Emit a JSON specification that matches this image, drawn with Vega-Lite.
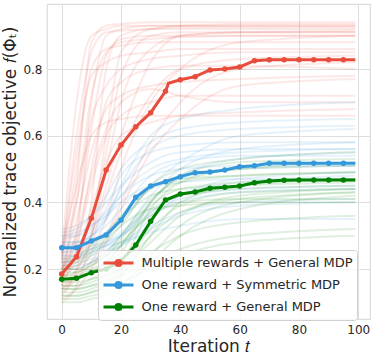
{
  "$schema": "https://vega.github.io/schema/vega-lite/v6.json",
  "width": 323,
  "height": 315,
  "autosize": {"type": "none"},
  "padding": {"left": 47, "top": 4, "right": 4, "bottom": 39},
  "background": "white",
  "config": {
    "view": {"stroke": "#dcdcdc", "strokeWidth": 1.2},
    "axis": {
      "domain": false, "ticks": false, "gridColor": "#dedede", "gridWidth": 1,
      "labelFont": "DejaVu Sans", "labelFontSize": 12, "labelColor": "#262626", "labelPadding": 5,
      "titleFont": "DejaVu Sans", "titleFontWeight": "normal", "titleFontSize": 17, "titleColor": "#262626"
    },
    "legend": {
      "orient": "none", "legendX": 51, "legendY": 246,
      "fillColor": "rgba(255,255,255,0.8)", "strokeColor": "#d0d0d0", "cornerRadius": 3, "padding": 4,
      "symbolType": "M-2,0H2M0.34,0A0.34,0.34 0 1 1 -0.34,0A0.34,0.34 0 1 1 0.34,0Z",
      "symbolSize": 225, "symbolStrokeWidth": 3, "symbolOpacity": 1, "symbolOffset": 7.5,
      "labelFont": "DejaVu Sans", "labelFontSize": 13, "labelColor": "#262626",
      "rowPadding": 4, "labelOffset": 14, "labelLimit": 400
    }
  },
  "datasets": {
    "mean": [
      {"m": "Multiple rewards + General MDP", "t": 0, "v": 0.185},
      {"m": "Multiple rewards + General MDP", "t": 5, "v": 0.237},
      {"m": "Multiple rewards + General MDP", "t": 10, "v": 0.352},
      {"m": "Multiple rewards + General MDP", "t": 15, "v": 0.497},
      {"m": "Multiple rewards + General MDP", "t": 20, "v": 0.572},
      {"m": "Multiple rewards + General MDP", "t": 25, "v": 0.627},
      {"m": "Multiple rewards + General MDP", "t": 30, "v": 0.669},
      {"m": "Multiple rewards + General MDP", "t": 35, "v": 0.733},
      {"m": "Multiple rewards + General MDP", "t": 36, "v": 0.757},
      {"m": "Multiple rewards + General MDP", "t": 40, "v": 0.768},
      {"m": "Multiple rewards + General MDP", "t": 45, "v": 0.777},
      {"m": "Multiple rewards + General MDP", "t": 50, "v": 0.797},
      {"m": "Multiple rewards + General MDP", "t": 55, "v": 0.8},
      {"m": "Multiple rewards + General MDP", "t": 60, "v": 0.806},
      {"m": "Multiple rewards + General MDP", "t": 65, "v": 0.825},
      {"m": "Multiple rewards + General MDP", "t": 70, "v": 0.828},
      {"m": "Multiple rewards + General MDP", "t": 75, "v": 0.828},
      {"m": "Multiple rewards + General MDP", "t": 80, "v": 0.828},
      {"m": "Multiple rewards + General MDP", "t": 85, "v": 0.828},
      {"m": "Multiple rewards + General MDP", "t": 90, "v": 0.828},
      {"m": "Multiple rewards + General MDP", "t": 95, "v": 0.828},
      {"m": "Multiple rewards + General MDP", "t": 99, "v": 0.828},
      {"m": "One reward + Symmetric MDP", "t": 0, "v": 0.264},
      {"m": "One reward + Symmetric MDP", "t": 5, "v": 0.264},
      {"m": "One reward + Symmetric MDP", "t": 10, "v": 0.284},
      {"m": "One reward + Symmetric MDP", "t": 15, "v": 0.302},
      {"m": "One reward + Symmetric MDP", "t": 20, "v": 0.347},
      {"m": "One reward + Symmetric MDP", "t": 25, "v": 0.415},
      {"m": "One reward + Symmetric MDP", "t": 30, "v": 0.449},
      {"m": "One reward + Symmetric MDP", "t": 35, "v": 0.462},
      {"m": "One reward + Symmetric MDP", "t": 40, "v": 0.477},
      {"m": "One reward + Symmetric MDP", "t": 45, "v": 0.489},
      {"m": "One reward + Symmetric MDP", "t": 50, "v": 0.491},
      {"m": "One reward + Symmetric MDP", "t": 55, "v": 0.497},
      {"m": "One reward + Symmetric MDP", "t": 60, "v": 0.507},
      {"m": "One reward + Symmetric MDP", "t": 65, "v": 0.51},
      {"m": "One reward + Symmetric MDP", "t": 70, "v": 0.517},
      {"m": "One reward + Symmetric MDP", "t": 75, "v": 0.517},
      {"m": "One reward + Symmetric MDP", "t": 80, "v": 0.517},
      {"m": "One reward + Symmetric MDP", "t": 85, "v": 0.517},
      {"m": "One reward + Symmetric MDP", "t": 90, "v": 0.517},
      {"m": "One reward + Symmetric MDP", "t": 95, "v": 0.517},
      {"m": "One reward + Symmetric MDP", "t": 99, "v": 0.517},
      {"m": "One reward + General MDP", "t": 0, "v": 0.169},
      {"m": "One reward + General MDP", "t": 5, "v": 0.172},
      {"m": "One reward + General MDP", "t": 10, "v": 0.189},
      {"m": "One reward + General MDP", "t": 15, "v": 0.2},
      {"m": "One reward + General MDP", "t": 20, "v": 0.225},
      {"m": "One reward + General MDP", "t": 25, "v": 0.272},
      {"m": "One reward + General MDP", "t": 30, "v": 0.343},
      {"m": "One reward + General MDP", "t": 35, "v": 0.407},
      {"m": "One reward + General MDP", "t": 40, "v": 0.425},
      {"m": "One reward + General MDP", "t": 45, "v": 0.431},
      {"m": "One reward + General MDP", "t": 50, "v": 0.442},
      {"m": "One reward + General MDP", "t": 55, "v": 0.445},
      {"m": "One reward + General MDP", "t": 60, "v": 0.449},
      {"m": "One reward + General MDP", "t": 65, "v": 0.459},
      {"m": "One reward + General MDP", "t": 70, "v": 0.464},
      {"m": "One reward + General MDP", "t": 75, "v": 0.466},
      {"m": "One reward + General MDP", "t": 80, "v": 0.467},
      {"m": "One reward + General MDP", "t": 85, "v": 0.467},
      {"m": "One reward + General MDP", "t": 90, "v": 0.467},
      {"m": "One reward + General MDP", "t": 95, "v": 0.467},
      {"m": "One reward + General MDP", "t": 99, "v": 0.467}
    ],
    "runs": [
      {"m":"Multiple rewards + General MDP","r":1,"t":0,"v":0.15},{"m":"Multiple rewards + General MDP","r":1,"t":5,"v":0.45},{"m":"Multiple rewards + General MDP","r":1,"t":10,"v":0.88},{"m":"Multiple rewards + General MDP","r":1,"t":15,"v":0.93},{"m":"Multiple rewards + General MDP","r":1,"t":20,"v":0.935},{"m":"Multiple rewards + General MDP","r":1,"t":30,"v":0.94},{"m":"Multiple rewards + General MDP","r":1,"t":40,"v":0.94},{"m":"Multiple rewards + General MDP","r":1,"t":60,"v":0.94},{"m":"Multiple rewards + General MDP","r":1,"t":99,"v":0.94},
      {"m":"Multiple rewards + General MDP","r":2,"t":0,"v":0.2},{"m":"Multiple rewards + General MDP","r":2,"t":5,"v":0.3},{"m":"Multiple rewards + General MDP","r":2,"t":10,"v":0.7},{"m":"Multiple rewards + General MDP","r":2,"t":15,"v":0.9},{"m":"Multiple rewards + General MDP","r":2,"t":20,"v":0.92},{"m":"Multiple rewards + General MDP","r":2,"t":30,"v":0.93},{"m":"Multiple rewards + General MDP","r":2,"t":40,"v":0.93},{"m":"Multiple rewards + General MDP","r":2,"t":60,"v":0.93},{"m":"Multiple rewards + General MDP","r":2,"t":99,"v":0.93},
      {"m":"Multiple rewards + General MDP","r":3,"t":0,"v":0.12},{"m":"Multiple rewards + General MDP","r":3,"t":5,"v":0.2},{"m":"Multiple rewards + General MDP","r":3,"t":10,"v":0.4},{"m":"Multiple rewards + General MDP","r":3,"t":15,"v":0.8},{"m":"Multiple rewards + General MDP","r":3,"t":20,"v":0.9},{"m":"Multiple rewards + General MDP","r":3,"t":30,"v":0.92},{"m":"Multiple rewards + General MDP","r":3,"t":40,"v":0.92},{"m":"Multiple rewards + General MDP","r":3,"t":60,"v":0.92},{"m":"Multiple rewards + General MDP","r":3,"t":99,"v":0.92},
      {"m":"Multiple rewards + General MDP","r":4,"t":0,"v":0.18},{"m":"Multiple rewards + General MDP","r":4,"t":5,"v":0.25},{"m":"Multiple rewards + General MDP","r":4,"t":10,"v":0.35},{"m":"Multiple rewards + General MDP","r":4,"t":15,"v":0.55},{"m":"Multiple rewards + General MDP","r":4,"t":20,"v":0.78},{"m":"Multiple rewards + General MDP","r":4,"t":30,"v":0.9},{"m":"Multiple rewards + General MDP","r":4,"t":40,"v":0.91},{"m":"Multiple rewards + General MDP","r":4,"t":60,"v":0.91},{"m":"Multiple rewards + General MDP","r":4,"t":99,"v":0.91},
      {"m":"Multiple rewards + General MDP","r":5,"t":0,"v":0.22},{"m":"Multiple rewards + General MDP","r":5,"t":5,"v":0.6},{"m":"Multiple rewards + General MDP","r":5,"t":10,"v":0.85},{"m":"Multiple rewards + General MDP","r":5,"t":15,"v":0.91},{"m":"Multiple rewards + General MDP","r":5,"t":20,"v":0.915},{"m":"Multiple rewards + General MDP","r":5,"t":30,"v":0.92},{"m":"Multiple rewards + General MDP","r":5,"t":40,"v":0.925},{"m":"Multiple rewards + General MDP","r":5,"t":60,"v":0.925},{"m":"Multiple rewards + General MDP","r":5,"t":99,"v":0.925},
      {"m":"Multiple rewards + General MDP","r":6,"t":0,"v":0.16},{"m":"Multiple rewards + General MDP","r":6,"t":5,"v":0.22},{"m":"Multiple rewards + General MDP","r":6,"t":10,"v":0.3},{"m":"Multiple rewards + General MDP","r":6,"t":15,"v":0.45},{"m":"Multiple rewards + General MDP","r":6,"t":20,"v":0.6},{"m":"Multiple rewards + General MDP","r":6,"t":30,"v":0.82},{"m":"Multiple rewards + General MDP","r":6,"t":40,"v":0.9},{"m":"Multiple rewards + General MDP","r":6,"t":60,"v":0.91},{"m":"Multiple rewards + General MDP","r":6,"t":99,"v":0.91},
      {"m":"Multiple rewards + General MDP","r":7,"t":0,"v":0.25},{"m":"Multiple rewards + General MDP","r":7,"t":5,"v":0.4},{"m":"Multiple rewards + General MDP","r":7,"t":10,"v":0.65},{"m":"Multiple rewards + General MDP","r":7,"t":15,"v":0.75},{"m":"Multiple rewards + General MDP","r":7,"t":20,"v":0.8},{"m":"Multiple rewards + General MDP","r":7,"t":30,"v":0.83},{"m":"Multiple rewards + General MDP","r":7,"t":40,"v":0.84},{"m":"Multiple rewards + General MDP","r":7,"t":60,"v":0.85},{"m":"Multiple rewards + General MDP","r":7,"t":99,"v":0.85},
      {"m":"Multiple rewards + General MDP","r":8,"t":0,"v":0.14},{"m":"Multiple rewards + General MDP","r":8,"t":5,"v":0.18},{"m":"Multiple rewards + General MDP","r":8,"t":10,"v":0.25},{"m":"Multiple rewards + General MDP","r":8,"t":15,"v":0.35},{"m":"Multiple rewards + General MDP","r":8,"t":20,"v":0.5},{"m":"Multiple rewards + General MDP","r":8,"t":30,"v":0.7},{"m":"Multiple rewards + General MDP","r":8,"t":40,"v":0.8},{"m":"Multiple rewards + General MDP","r":8,"t":60,"v":0.88},{"m":"Multiple rewards + General MDP","r":8,"t":99,"v":0.9},
      {"m":"Multiple rewards + General MDP","r":9,"t":0,"v":0.2},{"m":"Multiple rewards + General MDP","r":9,"t":5,"v":0.35},{"m":"Multiple rewards + General MDP","r":9,"t":10,"v":0.55},{"m":"Multiple rewards + General MDP","r":9,"t":15,"v":0.68},{"m":"Multiple rewards + General MDP","r":9,"t":20,"v":0.72},{"m":"Multiple rewards + General MDP","r":9,"t":30,"v":0.75},{"m":"Multiple rewards + General MDP","r":9,"t":40,"v":0.76},{"m":"Multiple rewards + General MDP","r":9,"t":60,"v":0.77},{"m":"Multiple rewards + General MDP","r":9,"t":99,"v":0.78},
      {"m":"Multiple rewards + General MDP","r":10,"t":0,"v":0.18},{"m":"Multiple rewards + General MDP","r":10,"t":5,"v":0.28},{"m":"Multiple rewards + General MDP","r":10,"t":10,"v":0.45},{"m":"Multiple rewards + General MDP","r":10,"t":15,"v":0.6},{"m":"Multiple rewards + General MDP","r":10,"t":20,"v":0.66},{"m":"Multiple rewards + General MDP","r":10,"t":30,"v":0.7},{"m":"Multiple rewards + General MDP","r":10,"t":40,"v":0.72},{"m":"Multiple rewards + General MDP","r":10,"t":60,"v":0.72},{"m":"Multiple rewards + General MDP","r":10,"t":99,"v":0.72},
      {"m":"Multiple rewards + General MDP","r":11,"t":0,"v":0.13},{"m":"Multiple rewards + General MDP","r":11,"t":5,"v":0.17},{"m":"Multiple rewards + General MDP","r":11,"t":10,"v":0.22},{"m":"Multiple rewards + General MDP","r":11,"t":15,"v":0.3},{"m":"Multiple rewards + General MDP","r":11,"t":20,"v":0.4},{"m":"Multiple rewards + General MDP","r":11,"t":30,"v":0.58},{"m":"Multiple rewards + General MDP","r":11,"t":40,"v":0.7},{"m":"Multiple rewards + General MDP","r":11,"t":60,"v":0.8},{"m":"Multiple rewards + General MDP","r":11,"t":99,"v":0.82},
      {"m":"Multiple rewards + General MDP","r":12,"t":0,"v":0.21},{"m":"Multiple rewards + General MDP","r":12,"t":5,"v":0.5},{"m":"Multiple rewards + General MDP","r":12,"t":10,"v":0.8},{"m":"Multiple rewards + General MDP","r":12,"t":15,"v":0.86},{"m":"Multiple rewards + General MDP","r":12,"t":20,"v":0.87},{"m":"Multiple rewards + General MDP","r":12,"t":30,"v":0.88},{"m":"Multiple rewards + General MDP","r":12,"t":40,"v":0.88},{"m":"Multiple rewards + General MDP","r":12,"t":60,"v":0.88},{"m":"Multiple rewards + General MDP","r":12,"t":99,"v":0.88},
      {"m":"Multiple rewards + General MDP","r":13,"t":0,"v":0.17},{"m":"Multiple rewards + General MDP","r":13,"t":5,"v":0.24},{"m":"Multiple rewards + General MDP","r":13,"t":10,"v":0.38},{"m":"Multiple rewards + General MDP","r":13,"t":15,"v":0.52},{"m":"Multiple rewards + General MDP","r":13,"t":20,"v":0.6},{"m":"Multiple rewards + General MDP","r":13,"t":30,"v":0.64},{"m":"Multiple rewards + General MDP","r":13,"t":40,"v":0.66},{"m":"Multiple rewards + General MDP","r":13,"t":60,"v":0.67},{"m":"Multiple rewards + General MDP","r":13,"t":99,"v":0.68},
      {"m":"Multiple rewards + General MDP","r":14,"t":0,"v":0.19},{"m":"Multiple rewards + General MDP","r":14,"t":5,"v":0.32},{"m":"Multiple rewards + General MDP","r":14,"t":10,"v":0.62},{"m":"Multiple rewards + General MDP","r":14,"t":15,"v":0.84},{"m":"Multiple rewards + General MDP","r":14,"t":20,"v":0.89},{"m":"Multiple rewards + General MDP","r":14,"t":30,"v":0.9},{"m":"Multiple rewards + General MDP","r":14,"t":40,"v":0.9},{"m":"Multiple rewards + General MDP","r":14,"t":60,"v":0.9},{"m":"Multiple rewards + General MDP","r":14,"t":99,"v":0.9},
      {"m":"Multiple rewards + General MDP","r":15,"t":0,"v":0.15},{"m":"Multiple rewards + General MDP","r":15,"t":5,"v":0.2},{"m":"Multiple rewards + General MDP","r":15,"t":10,"v":0.28},{"m":"Multiple rewards + General MDP","r":15,"t":15,"v":0.42},{"m":"Multiple rewards + General MDP","r":15,"t":20,"v":0.55},{"m":"Multiple rewards + General MDP","r":15,"t":30,"v":0.72},{"m":"Multiple rewards + General MDP","r":15,"t":40,"v":0.8},{"m":"Multiple rewards + General MDP","r":15,"t":60,"v":0.83},{"m":"Multiple rewards + General MDP","r":15,"t":99,"v":0.84},
      {"m":"Multiple rewards + General MDP","r":16,"t":0,"v":0.23},{"m":"Multiple rewards + General MDP","r":16,"t":5,"v":0.55},{"m":"Multiple rewards + General MDP","r":16,"t":10,"v":0.78},{"m":"Multiple rewards + General MDP","r":16,"t":15,"v":0.82},{"m":"Multiple rewards + General MDP","r":16,"t":20,"v":0.84},{"m":"Multiple rewards + General MDP","r":16,"t":30,"v":0.85},{"m":"Multiple rewards + General MDP","r":16,"t":40,"v":0.86},{"m":"Multiple rewards + General MDP","r":16,"t":60,"v":0.86},{"m":"Multiple rewards + General MDP","r":16,"t":99,"v":0.86},
      {"m":"Multiple rewards + General MDP","r":17,"t":0,"v":0.1},{"m":"Multiple rewards + General MDP","r":17,"t":5,"v":0.15},{"m":"Multiple rewards + General MDP","r":17,"t":10,"v":0.3},{"m":"Multiple rewards + General MDP","r":17,"t":15,"v":0.6},{"m":"Multiple rewards + General MDP","r":17,"t":20,"v":0.85},{"m":"Multiple rewards + General MDP","r":17,"t":30,"v":0.92},{"m":"Multiple rewards + General MDP","r":17,"t":40,"v":0.93},{"m":"Multiple rewards + General MDP","r":17,"t":60,"v":0.93},{"m":"Multiple rewards + General MDP","r":17,"t":99,"v":0.93},
      {"m":"Multiple rewards + General MDP","r":18,"t":0,"v":0.24},{"m":"Multiple rewards + General MDP","r":18,"t":5,"v":0.7},{"m":"Multiple rewards + General MDP","r":18,"t":10,"v":0.9},{"m":"Multiple rewards + General MDP","r":18,"t":15,"v":0.92},{"m":"Multiple rewards + General MDP","r":18,"t":20,"v":0.93},{"m":"Multiple rewards + General MDP","r":18,"t":30,"v":0.93},{"m":"Multiple rewards + General MDP","r":18,"t":40,"v":0.93},{"m":"Multiple rewards + General MDP","r":18,"t":60,"v":0.935},{"m":"Multiple rewards + General MDP","r":18,"t":99,"v":0.935},
      {"m":"Multiple rewards + General MDP","r":19,"t":0,"v":0.16},{"m":"Multiple rewards + General MDP","r":19,"t":5,"v":0.26},{"m":"Multiple rewards + General MDP","r":19,"t":10,"v":0.5},{"m":"Multiple rewards + General MDP","r":19,"t":15,"v":0.7},{"m":"Multiple rewards + General MDP","r":19,"t":20,"v":0.76},{"m":"Multiple rewards + General MDP","r":19,"t":30,"v":0.8},{"m":"Multiple rewards + General MDP","r":19,"t":40,"v":0.81},{"m":"Multiple rewards + General MDP","r":19,"t":60,"v":0.81},{"m":"Multiple rewards + General MDP","r":19,"t":99,"v":0.8},
      {"m":"Multiple rewards + General MDP","r":20,"t":0,"v":0.2},{"m":"Multiple rewards + General MDP","r":20,"t":5,"v":0.3},{"m":"Multiple rewards + General MDP","r":20,"t":10,"v":0.48},{"m":"Multiple rewards + General MDP","r":20,"t":15,"v":0.62},{"m":"Multiple rewards + General MDP","r":20,"t":20,"v":0.7},{"m":"Multiple rewards + General MDP","r":20,"t":30,"v":0.74},{"m":"Multiple rewards + General MDP","r":20,"t":40,"v":0.72},{"m":"Multiple rewards + General MDP","r":20,"t":60,"v":0.7},{"m":"Multiple rewards + General MDP","r":20,"t":99,"v":0.7},
      {"m":"Multiple rewards + General MDP","r":21,"t":0,"v":0.11},{"m":"Multiple rewards + General MDP","r":21,"t":5,"v":0.14},{"m":"Multiple rewards + General MDP","r":21,"t":10,"v":0.2},{"m":"Multiple rewards + General MDP","r":21,"t":15,"v":0.28},{"m":"Multiple rewards + General MDP","r":21,"t":20,"v":0.38},{"m":"Multiple rewards + General MDP","r":21,"t":30,"v":0.55},{"m":"Multiple rewards + General MDP","r":21,"t":40,"v":0.65},{"m":"Multiple rewards + General MDP","r":21,"t":60,"v":0.75},{"m":"Multiple rewards + General MDP","r":21,"t":99,"v":0.77},
      {"m":"Multiple rewards + General MDP","r":22,"t":0,"v":0.19},{"m":"Multiple rewards + General MDP","r":22,"t":5,"v":0.4},{"m":"Multiple rewards + General MDP","r":22,"t":10,"v":0.72},{"m":"Multiple rewards + General MDP","r":22,"t":15,"v":0.85},{"m":"Multiple rewards + General MDP","r":22,"t":20,"v":0.88},{"m":"Multiple rewards + General MDP","r":22,"t":30,"v":0.89},{"m":"Multiple rewards + General MDP","r":22,"t":40,"v":0.895},{"m":"Multiple rewards + General MDP","r":22,"t":60,"v":0.9},{"m":"Multiple rewards + General MDP","r":22,"t":99,"v":0.9},
      {"m":"Multiple rewards + General MDP","r":23,"t":0,"v":0.14},{"m":"Multiple rewards + General MDP","r":23,"t":5,"v":0.19},{"m":"Multiple rewards + General MDP","r":23,"t":10,"v":0.3},{"m":"Multiple rewards + General MDP","r":23,"t":15,"v":0.5},{"m":"Multiple rewards + General MDP","r":23,"t":20,"v":0.7},{"m":"Multiple rewards + General MDP","r":23,"t":30,"v":0.86},{"m":"Multiple rewards + General MDP","r":23,"t":40,"v":0.9},{"m":"Multiple rewards + General MDP","r":23,"t":60,"v":0.91},{"m":"Multiple rewards + General MDP","r":23,"t":99,"v":0.915},
      {"m":"Multiple rewards + General MDP","r":24,"t":0,"v":0.26},{"m":"Multiple rewards + General MDP","r":24,"t":5,"v":0.45},{"m":"Multiple rewards + General MDP","r":24,"t":10,"v":0.6},{"m":"Multiple rewards + General MDP","r":24,"t":15,"v":0.64},{"m":"Multiple rewards + General MDP","r":24,"t":20,"v":0.65},{"m":"Multiple rewards + General MDP","r":24,"t":30,"v":0.66},{"m":"Multiple rewards + General MDP","r":24,"t":40,"v":0.66},{"m":"Multiple rewards + General MDP","r":24,"t":60,"v":0.66},{"m":"Multiple rewards + General MDP","r":24,"t":99,"v":0.66},
      {"m":"One reward + Symmetric MDP","r":21,"t":0,"v":0.28},{"m":"One reward + Symmetric MDP","r":21,"t":5,"v":0.28},{"m":"One reward + Symmetric MDP","r":21,"t":10,"v":0.3},{"m":"One reward + Symmetric MDP","r":21,"t":15,"v":0.35},{"m":"One reward + Symmetric MDP","r":21,"t":20,"v":0.45},{"m":"One reward + Symmetric MDP","r":21,"t":30,"v":0.6},{"m":"One reward + Symmetric MDP","r":21,"t":40,"v":0.65},{"m":"One reward + Symmetric MDP","r":21,"t":60,"v":0.68},{"m":"One reward + Symmetric MDP","r":21,"t":99,"v":0.7},
      {"m":"One reward + Symmetric MDP","r":22,"t":0,"v":0.25},{"m":"One reward + Symmetric MDP","r":22,"t":5,"v":0.26},{"m":"One reward + Symmetric MDP","r":22,"t":10,"v":0.28},{"m":"One reward + Symmetric MDP","r":22,"t":15,"v":0.3},{"m":"One reward + Symmetric MDP","r":22,"t":20,"v":0.34},{"m":"One reward + Symmetric MDP","r":22,"t":30,"v":0.45},{"m":"One reward + Symmetric MDP","r":22,"t":40,"v":0.52},{"m":"One reward + Symmetric MDP","r":22,"t":60,"v":0.6},{"m":"One reward + Symmetric MDP","r":22,"t":99,"v":0.62},
      {"m":"One reward + Symmetric MDP","r":23,"t":0,"v":0.3},{"m":"One reward + Symmetric MDP","r":23,"t":5,"v":0.3},{"m":"One reward + Symmetric MDP","r":23,"t":10,"v":0.32},{"m":"One reward + Symmetric MDP","r":23,"t":15,"v":0.38},{"m":"One reward + Symmetric MDP","r":23,"t":20,"v":0.48},{"m":"One reward + Symmetric MDP","r":23,"t":30,"v":0.55},{"m":"One reward + Symmetric MDP","r":23,"t":40,"v":0.57},{"m":"One reward + Symmetric MDP","r":23,"t":60,"v":0.58},{"m":"One reward + Symmetric MDP","r":23,"t":99,"v":0.58},
      {"m":"One reward + Symmetric MDP","r":24,"t":0,"v":0.22},{"m":"One reward + Symmetric MDP","r":24,"t":5,"v":0.23},{"m":"One reward + Symmetric MDP","r":24,"t":10,"v":0.25},{"m":"One reward + Symmetric MDP","r":24,"t":15,"v":0.27},{"m":"One reward + Symmetric MDP","r":24,"t":20,"v":0.3},{"m":"One reward + Symmetric MDP","r":24,"t":30,"v":0.4},{"m":"One reward + Symmetric MDP","r":24,"t":40,"v":0.48},{"m":"One reward + Symmetric MDP","r":24,"t":60,"v":0.53},{"m":"One reward + Symmetric MDP","r":24,"t":99,"v":0.55},
      {"m":"One reward + Symmetric MDP","r":25,"t":0,"v":0.27},{"m":"One reward + Symmetric MDP","r":25,"t":5,"v":0.27},{"m":"One reward + Symmetric MDP","r":25,"t":10,"v":0.29},{"m":"One reward + Symmetric MDP","r":25,"t":15,"v":0.31},{"m":"One reward + Symmetric MDP","r":25,"t":20,"v":0.35},{"m":"One reward + Symmetric MDP","r":25,"t":30,"v":0.44},{"m":"One reward + Symmetric MDP","r":25,"t":40,"v":0.47},{"m":"One reward + Symmetric MDP","r":25,"t":60,"v":0.5},{"m":"One reward + Symmetric MDP","r":25,"t":99,"v":0.51},
      {"m":"One reward + Symmetric MDP","r":26,"t":0,"v":0.24},{"m":"One reward + Symmetric MDP","r":26,"t":5,"v":0.24},{"m":"One reward + Symmetric MDP","r":26,"t":10,"v":0.26},{"m":"One reward + Symmetric MDP","r":26,"t":15,"v":0.28},{"m":"One reward + Symmetric MDP","r":26,"t":20,"v":0.31},{"m":"One reward + Symmetric MDP","r":26,"t":30,"v":0.38},{"m":"One reward + Symmetric MDP","r":26,"t":40,"v":0.42},{"m":"One reward + Symmetric MDP","r":26,"t":60,"v":0.46},{"m":"One reward + Symmetric MDP","r":26,"t":99,"v":0.48},
      {"m":"One reward + Symmetric MDP","r":27,"t":0,"v":0.29},{"m":"One reward + Symmetric MDP","r":27,"t":5,"v":0.3},{"m":"One reward + Symmetric MDP","r":27,"t":10,"v":0.33},{"m":"One reward + Symmetric MDP","r":27,"t":15,"v":0.36},{"m":"One reward + Symmetric MDP","r":27,"t":20,"v":0.4},{"m":"One reward + Symmetric MDP","r":27,"t":30,"v":0.45},{"m":"One reward + Symmetric MDP","r":27,"t":40,"v":0.46},{"m":"One reward + Symmetric MDP","r":27,"t":60,"v":0.47},{"m":"One reward + Symmetric MDP","r":27,"t":99,"v":0.47},
      {"m":"One reward + Symmetric MDP","r":28,"t":0,"v":0.26},{"m":"One reward + Symmetric MDP","r":28,"t":5,"v":0.26},{"m":"One reward + Symmetric MDP","r":28,"t":10,"v":0.27},{"m":"One reward + Symmetric MDP","r":28,"t":15,"v":0.28},{"m":"One reward + Symmetric MDP","r":28,"t":20,"v":0.3},{"m":"One reward + Symmetric MDP","r":28,"t":30,"v":0.36},{"m":"One reward + Symmetric MDP","r":28,"t":40,"v":0.4},{"m":"One reward + Symmetric MDP","r":28,"t":60,"v":0.43},{"m":"One reward + Symmetric MDP","r":28,"t":99,"v":0.44},
      {"m":"One reward + Symmetric MDP","r":29,"t":0,"v":0.23},{"m":"One reward + Symmetric MDP","r":29,"t":5,"v":0.23},{"m":"One reward + Symmetric MDP","r":29,"t":10,"v":0.24},{"m":"One reward + Symmetric MDP","r":29,"t":15,"v":0.26},{"m":"One reward + Symmetric MDP","r":29,"t":20,"v":0.28},{"m":"One reward + Symmetric MDP","r":29,"t":30,"v":0.33},{"m":"One reward + Symmetric MDP","r":29,"t":40,"v":0.37},{"m":"One reward + Symmetric MDP","r":29,"t":60,"v":0.4},{"m":"One reward + Symmetric MDP","r":29,"t":99,"v":0.41},
      {"m":"One reward + Symmetric MDP","r":30,"t":0,"v":0.31},{"m":"One reward + Symmetric MDP","r":30,"t":5,"v":0.32},{"m":"One reward + Symmetric MDP","r":30,"t":10,"v":0.36},{"m":"One reward + Symmetric MDP","r":30,"t":15,"v":0.42},{"m":"One reward + Symmetric MDP","r":30,"t":20,"v":0.5},{"m":"One reward + Symmetric MDP","r":30,"t":30,"v":0.58},{"m":"One reward + Symmetric MDP","r":30,"t":40,"v":0.62},{"m":"One reward + Symmetric MDP","r":30,"t":60,"v":0.64},{"m":"One reward + Symmetric MDP","r":30,"t":99,"v":0.65},
      {"m":"One reward + Symmetric MDP","r":31,"t":0,"v":0.25},{"m":"One reward + Symmetric MDP","r":31,"t":5,"v":0.25},{"m":"One reward + Symmetric MDP","r":31,"t":10,"v":0.26},{"m":"One reward + Symmetric MDP","r":31,"t":15,"v":0.27},{"m":"One reward + Symmetric MDP","r":31,"t":20,"v":0.28},{"m":"One reward + Symmetric MDP","r":31,"t":30,"v":0.31},{"m":"One reward + Symmetric MDP","r":31,"t":40,"v":0.33},{"m":"One reward + Symmetric MDP","r":31,"t":60,"v":0.35},{"m":"One reward + Symmetric MDP","r":31,"t":99,"v":0.35},
      {"m":"One reward + Symmetric MDP","r":32,"t":0,"v":0.28},{"m":"One reward + Symmetric MDP","r":32,"t":5,"v":0.28},{"m":"One reward + Symmetric MDP","r":32,"t":10,"v":0.3},{"m":"One reward + Symmetric MDP","r":32,"t":15,"v":0.33},{"m":"One reward + Symmetric MDP","r":32,"t":20,"v":0.38},{"m":"One reward + Symmetric MDP","r":32,"t":30,"v":0.48},{"m":"One reward + Symmetric MDP","r":32,"t":40,"v":0.52},{"m":"One reward + Symmetric MDP","r":32,"t":60,"v":0.54},{"m":"One reward + Symmetric MDP","r":32,"t":99,"v":0.54},
      {"m":"One reward + Symmetric MDP","r":33,"t":0,"v":0.2},{"m":"One reward + Symmetric MDP","r":33,"t":5,"v":0.2},{"m":"One reward + Symmetric MDP","r":33,"t":10,"v":0.22},{"m":"One reward + Symmetric MDP","r":33,"t":15,"v":0.25},{"m":"One reward + Symmetric MDP","r":33,"t":20,"v":0.3},{"m":"One reward + Symmetric MDP","r":33,"t":30,"v":0.42},{"m":"One reward + Symmetric MDP","r":33,"t":40,"v":0.5},{"m":"One reward + Symmetric MDP","r":33,"t":60,"v":0.56},{"m":"One reward + Symmetric MDP","r":33,"t":99,"v":0.58},
      {"m":"One reward + Symmetric MDP","r":34,"t":0,"v":0.32},{"m":"One reward + Symmetric MDP","r":34,"t":5,"v":0.33},{"m":"One reward + Symmetric MDP","r":34,"t":10,"v":0.36},{"m":"One reward + Symmetric MDP","r":34,"t":15,"v":0.4},{"m":"One reward + Symmetric MDP","r":34,"t":20,"v":0.45},{"m":"One reward + Symmetric MDP","r":34,"t":30,"v":0.52},{"m":"One reward + Symmetric MDP","r":34,"t":40,"v":0.55},{"m":"One reward + Symmetric MDP","r":34,"t":60,"v":0.56},{"m":"One reward + Symmetric MDP","r":34,"t":99,"v":0.56},
      {"m":"One reward + Symmetric MDP","r":35,"t":0,"v":0.26},{"m":"One reward + Symmetric MDP","r":35,"t":5,"v":0.27},{"m":"One reward + Symmetric MDP","r":35,"t":10,"v":0.3},{"m":"One reward + Symmetric MDP","r":35,"t":15,"v":0.35},{"m":"One reward + Symmetric MDP","r":35,"t":20,"v":0.42},{"m":"One reward + Symmetric MDP","r":35,"t":30,"v":0.5},{"m":"One reward + Symmetric MDP","r":35,"t":40,"v":0.53},{"m":"One reward + Symmetric MDP","r":35,"t":60,"v":0.55},{"m":"One reward + Symmetric MDP","r":35,"t":99,"v":0.56},
      {"m":"One reward + Symmetric MDP","r":36,"t":0,"v":0.21},{"m":"One reward + Symmetric MDP","r":36,"t":5,"v":0.21},{"m":"One reward + Symmetric MDP","r":36,"t":10,"v":0.22},{"m":"One reward + Symmetric MDP","r":36,"t":15,"v":0.24},{"m":"One reward + Symmetric MDP","r":36,"t":20,"v":0.27},{"m":"One reward + Symmetric MDP","r":36,"t":30,"v":0.35},{"m":"One reward + Symmetric MDP","r":36,"t":40,"v":0.42},{"m":"One reward + Symmetric MDP","r":36,"t":60,"v":0.47},{"m":"One reward + Symmetric MDP","r":36,"t":99,"v":0.49},
      {"m":"One reward + Symmetric MDP","r":37,"t":0,"v":0.27},{"m":"One reward + Symmetric MDP","r":37,"t":5,"v":0.28},{"m":"One reward + Symmetric MDP","r":37,"t":10,"v":0.31},{"m":"One reward + Symmetric MDP","r":37,"t":15,"v":0.36},{"m":"One reward + Symmetric MDP","r":37,"t":20,"v":0.44},{"m":"One reward + Symmetric MDP","r":37,"t":30,"v":0.56},{"m":"One reward + Symmetric MDP","r":37,"t":40,"v":0.6},{"m":"One reward + Symmetric MDP","r":37,"t":60,"v":0.62},{"m":"One reward + Symmetric MDP","r":37,"t":99,"v":0.63},
      {"m":"One reward + Symmetric MDP","r":38,"t":0,"v":0.24},{"m":"One reward + Symmetric MDP","r":38,"t":5,"v":0.24},{"m":"One reward + Symmetric MDP","r":38,"t":10,"v":0.25},{"m":"One reward + Symmetric MDP","r":38,"t":15,"v":0.27},{"m":"One reward + Symmetric MDP","r":38,"t":20,"v":0.3},{"m":"One reward + Symmetric MDP","r":38,"t":30,"v":0.37},{"m":"One reward + Symmetric MDP","r":38,"t":40,"v":0.41},{"m":"One reward + Symmetric MDP","r":38,"t":60,"v":0.44},{"m":"One reward + Symmetric MDP","r":38,"t":99,"v":0.45},
      {"m":"One reward + Symmetric MDP","r":39,"t":0,"v":0.3},{"m":"One reward + Symmetric MDP","r":39,"t":5,"v":0.31},{"m":"One reward + Symmetric MDP","r":39,"t":10,"v":0.33},{"m":"One reward + Symmetric MDP","r":39,"t":15,"v":0.37},{"m":"One reward + Symmetric MDP","r":39,"t":20,"v":0.42},{"m":"One reward + Symmetric MDP","r":39,"t":30,"v":0.48},{"m":"One reward + Symmetric MDP","r":39,"t":40,"v":0.5},{"m":"One reward + Symmetric MDP","r":39,"t":60,"v":0.51},{"m":"One reward + Symmetric MDP","r":39,"t":99,"v":0.51},
      {"m":"One reward + Symmetric MDP","r":40,"t":0,"v":0.22},{"m":"One reward + Symmetric MDP","r":40,"t":5,"v":0.22},{"m":"One reward + Symmetric MDP","r":40,"t":10,"v":0.23},{"m":"One reward + Symmetric MDP","r":40,"t":15,"v":0.25},{"m":"One reward + Symmetric MDP","r":40,"t":20,"v":0.27},{"m":"One reward + Symmetric MDP","r":40,"t":30,"v":0.32},{"m":"One reward + Symmetric MDP","r":40,"t":40,"v":0.36},{"m":"One reward + Symmetric MDP","r":40,"t":60,"v":0.39},{"m":"One reward + Symmetric MDP","r":40,"t":99,"v":0.4},
      {"m":"One reward + General MDP","r":41,"t":0,"v":0.2},{"m":"One reward + General MDP","r":41,"t":5,"v":0.21},{"m":"One reward + General MDP","r":41,"t":10,"v":0.24},{"m":"One reward + General MDP","r":41,"t":15,"v":0.28},{"m":"One reward + General MDP","r":41,"t":20,"v":0.33},{"m":"One reward + General MDP","r":41,"t":30,"v":0.45},{"m":"One reward + General MDP","r":41,"t":40,"v":0.5},{"m":"One reward + General MDP","r":41,"t":60,"v":0.53},{"m":"One reward + General MDP","r":41,"t":99,"v":0.55},
      {"m":"One reward + General MDP","r":42,"t":0,"v":0.15},{"m":"One reward + General MDP","r":42,"t":5,"v":0.15},{"m":"One reward + General MDP","r":42,"t":10,"v":0.17},{"m":"One reward + General MDP","r":42,"t":15,"v":0.19},{"m":"One reward + General MDP","r":42,"t":20,"v":0.22},{"m":"One reward + General MDP","r":42,"t":30,"v":0.38},{"m":"One reward + General MDP","r":42,"t":40,"v":0.46},{"m":"One reward + General MDP","r":42,"t":60,"v":0.5},{"m":"One reward + General MDP","r":42,"t":99,"v":0.52},
      {"m":"One reward + General MDP","r":43,"t":0,"v":0.18},{"m":"One reward + General MDP","r":43,"t":5,"v":0.18},{"m":"One reward + General MDP","r":43,"t":10,"v":0.2},{"m":"One reward + General MDP","r":43,"t":15,"v":0.22},{"m":"One reward + General MDP","r":43,"t":20,"v":0.25},{"m":"One reward + General MDP","r":43,"t":30,"v":0.4},{"m":"One reward + General MDP","r":43,"t":40,"v":0.47},{"m":"One reward + General MDP","r":43,"t":60,"v":0.48},{"m":"One reward + General MDP","r":43,"t":99,"v":0.49},
      {"m":"One reward + General MDP","r":44,"t":0,"v":0.12},{"m":"One reward + General MDP","r":44,"t":5,"v":0.12},{"m":"One reward + General MDP","r":44,"t":10,"v":0.13},{"m":"One reward + General MDP","r":44,"t":15,"v":0.15},{"m":"One reward + General MDP","r":44,"t":20,"v":0.18},{"m":"One reward + General MDP","r":44,"t":30,"v":0.3},{"m":"One reward + General MDP","r":44,"t":40,"v":0.4},{"m":"One reward + General MDP","r":44,"t":60,"v":0.45},{"m":"One reward + General MDP","r":44,"t":99,"v":0.47},
      {"m":"One reward + General MDP","r":45,"t":0,"v":0.22},{"m":"One reward + General MDP","r":45,"t":5,"v":0.23},{"m":"One reward + General MDP","r":45,"t":10,"v":0.26},{"m":"One reward + General MDP","r":45,"t":15,"v":0.3},{"m":"One reward + General MDP","r":45,"t":20,"v":0.35},{"m":"One reward + General MDP","r":45,"t":30,"v":0.42},{"m":"One reward + General MDP","r":45,"t":40,"v":0.44},{"m":"One reward + General MDP","r":45,"t":60,"v":0.45},{"m":"One reward + General MDP","r":45,"t":99,"v":0.46},
      {"m":"One reward + General MDP","r":46,"t":0,"v":0.16},{"m":"One reward + General MDP","r":46,"t":5,"v":0.16},{"m":"One reward + General MDP","r":46,"t":10,"v":0.17},{"m":"One reward + General MDP","r":46,"t":15,"v":0.18},{"m":"One reward + General MDP","r":46,"t":20,"v":0.2},{"m":"One reward + General MDP","r":46,"t":30,"v":0.28},{"m":"One reward + General MDP","r":46,"t":40,"v":0.36},{"m":"One reward + General MDP","r":46,"t":60,"v":0.42},{"m":"One reward + General MDP","r":46,"t":99,"v":0.44},
      {"m":"One reward + General MDP","r":47,"t":0,"v":0.1},{"m":"One reward + General MDP","r":47,"t":5,"v":0.1},{"m":"One reward + General MDP","r":47,"t":10,"v":0.11},{"m":"One reward + General MDP","r":47,"t":15,"v":0.12},{"m":"One reward + General MDP","r":47,"t":20,"v":0.14},{"m":"One reward + General MDP","r":47,"t":30,"v":0.22},{"m":"One reward + General MDP","r":47,"t":40,"v":0.3},{"m":"One reward + General MDP","r":47,"t":60,"v":0.38},{"m":"One reward + General MDP","r":47,"t":99,"v":0.42},
      {"m":"One reward + General MDP","r":48,"t":0,"v":0.19},{"m":"One reward + General MDP","r":48,"t":5,"v":0.19},{"m":"One reward + General MDP","r":48,"t":10,"v":0.21},{"m":"One reward + General MDP","r":48,"t":15,"v":0.24},{"m":"One reward + General MDP","r":48,"t":20,"v":0.28},{"m":"One reward + General MDP","r":48,"t":30,"v":0.36},{"m":"One reward + General MDP","r":48,"t":40,"v":0.4},{"m":"One reward + General MDP","r":48,"t":60,"v":0.41},{"m":"One reward + General MDP","r":48,"t":99,"v":0.41},
      {"m":"One reward + General MDP","r":49,"t":0,"v":0.14},{"m":"One reward + General MDP","r":49,"t":5,"v":0.14},{"m":"One reward + General MDP","r":49,"t":10,"v":0.15},{"m":"One reward + General MDP","r":49,"t":15,"v":0.16},{"m":"One reward + General MDP","r":49,"t":20,"v":0.18},{"m":"One reward + General MDP","r":49,"t":30,"v":0.22},{"m":"One reward + General MDP","r":49,"t":40,"v":0.26},{"m":"One reward + General MDP","r":49,"t":60,"v":0.3},{"m":"One reward + General MDP","r":49,"t":99,"v":0.32},
      {"m":"One reward + General MDP","r":50,"t":0,"v":0.17},{"m":"One reward + General MDP","r":50,"t":5,"v":0.17},{"m":"One reward + General MDP","r":50,"t":10,"v":0.19},{"m":"One reward + General MDP","r":50,"t":15,"v":0.22},{"m":"One reward + General MDP","r":50,"t":20,"v":0.27},{"m":"One reward + General MDP","r":50,"t":30,"v":0.37},{"m":"One reward + General MDP","r":50,"t":40,"v":0.42},{"m":"One reward + General MDP","r":50,"t":60,"v":0.44},{"m":"One reward + General MDP","r":50,"t":99,"v":0.45},
      {"m":"One reward + General MDP","r":51,"t":0,"v":0.13},{"m":"One reward + General MDP","r":51,"t":5,"v":0.13},{"m":"One reward + General MDP","r":51,"t":10,"v":0.14},{"m":"One reward + General MDP","r":51,"t":15,"v":0.16},{"m":"One reward + General MDP","r":51,"t":20,"v":0.19},{"m":"One reward + General MDP","r":51,"t":30,"v":0.25},{"m":"One reward + General MDP","r":51,"t":40,"v":0.3},{"m":"One reward + General MDP","r":51,"t":60,"v":0.34},{"m":"One reward + General MDP","r":51,"t":99,"v":0.36},
      {"m":"One reward + General MDP","r":52,"t":0,"v":0.21},{"m":"One reward + General MDP","r":52,"t":5,"v":0.22},{"m":"One reward + General MDP","r":52,"t":10,"v":0.25},{"m":"One reward + General MDP","r":52,"t":15,"v":0.29},{"m":"One reward + General MDP","r":52,"t":20,"v":0.33},{"m":"One reward + General MDP","r":52,"t":30,"v":0.38},{"m":"One reward + General MDP","r":52,"t":40,"v":0.39},{"m":"One reward + General MDP","r":52,"t":60,"v":0.4},{"m":"One reward + General MDP","r":52,"t":99,"v":0.4},
      {"m":"One reward + General MDP","r":53,"t":0,"v":0.16},{"m":"One reward + General MDP","r":53,"t":5,"v":0.17},{"m":"One reward + General MDP","r":53,"t":10,"v":0.19},{"m":"One reward + General MDP","r":53,"t":15,"v":0.22},{"m":"One reward + General MDP","r":53,"t":20,"v":0.27},{"m":"One reward + General MDP","r":53,"t":30,"v":0.4},{"m":"One reward + General MDP","r":53,"t":40,"v":0.48},{"m":"One reward + General MDP","r":53,"t":60,"v":0.52},{"m":"One reward + General MDP","r":53,"t":99,"v":0.53},
      {"m":"One reward + General MDP","r":54,"t":0,"v":0.11},{"m":"One reward + General MDP","r":54,"t":5,"v":0.11},{"m":"One reward + General MDP","r":54,"t":10,"v":0.12},{"m":"One reward + General MDP","r":54,"t":15,"v":0.13},{"m":"One reward + General MDP","r":54,"t":20,"v":0.15},{"m":"One reward + General MDP","r":54,"t":30,"v":0.24},{"m":"One reward + General MDP","r":54,"t":40,"v":0.33},{"m":"One reward + General MDP","r":54,"t":60,"v":0.4},{"m":"One reward + General MDP","r":54,"t":99,"v":0.43},
      {"m":"One reward + General MDP","r":55,"t":0,"v":0.2},{"m":"One reward + General MDP","r":55,"t":5,"v":0.2},{"m":"One reward + General MDP","r":55,"t":10,"v":0.22},{"m":"One reward + General MDP","r":55,"t":15,"v":0.25},{"m":"One reward + General MDP","r":55,"t":20,"v":0.3},{"m":"One reward + General MDP","r":55,"t":30,"v":0.41},{"m":"One reward + General MDP","r":55,"t":40,"v":0.46},{"m":"One reward + General MDP","r":55,"t":60,"v":0.48},{"m":"One reward + General MDP","r":55,"t":99,"v":0.49},
      {"m":"One reward + General MDP","r":56,"t":0,"v":0.15},{"m":"One reward + General MDP","r":56,"t":5,"v":0.15},{"m":"One reward + General MDP","r":56,"t":10,"v":0.16},{"m":"One reward + General MDP","r":56,"t":15,"v":0.18},{"m":"One reward + General MDP","r":56,"t":20,"v":0.21},{"m":"One reward + General MDP","r":56,"t":30,"v":0.32},{"m":"One reward + General MDP","r":56,"t":40,"v":0.39},{"m":"One reward + General MDP","r":56,"t":60,"v":0.43},{"m":"One reward + General MDP","r":56,"t":99,"v":0.44},
      {"m":"One reward + General MDP","r":57,"t":0,"v":0.18},{"m":"One reward + General MDP","r":57,"t":5,"v":0.19},{"m":"One reward + General MDP","r":57,"t":10,"v":0.21},{"m":"One reward + General MDP","r":57,"t":15,"v":0.24},{"m":"One reward + General MDP","r":57,"t":20,"v":0.29},{"m":"One reward + General MDP","r":57,"t":30,"v":0.39},{"m":"One reward + General MDP","r":57,"t":40,"v":0.44},{"m":"One reward + General MDP","r":57,"t":60,"v":0.46},{"m":"One reward + General MDP","r":57,"t":99,"v":0.47},
      {"m":"One reward + General MDP","r":58,"t":0,"v":0.12},{"m":"One reward + General MDP","r":58,"t":5,"v":0.12},{"m":"One reward + General MDP","r":58,"t":10,"v":0.13},{"m":"One reward + General MDP","r":58,"t":15,"v":0.14},{"m":"One reward + General MDP","r":58,"t":20,"v":0.16},{"m":"One reward + General MDP","r":58,"t":30,"v":0.2},{"m":"One reward + General MDP","r":58,"t":40,"v":0.24},{"m":"One reward + General MDP","r":58,"t":60,"v":0.28},{"m":"One reward + General MDP","r":58,"t":99,"v":0.3},
      {"m":"One reward + General MDP","r":59,"t":0,"v":0.23},{"m":"One reward + General MDP","r":59,"t":5,"v":0.24},{"m":"One reward + General MDP","r":59,"t":10,"v":0.27},{"m":"One reward + General MDP","r":59,"t":15,"v":0.31},{"m":"One reward + General MDP","r":59,"t":20,"v":0.36},{"m":"One reward + General MDP","r":59,"t":30,"v":0.44},{"m":"One reward + General MDP","r":59,"t":40,"v":0.48},{"m":"One reward + General MDP","r":59,"t":60,"v":0.5},{"m":"One reward + General MDP","r":59,"t":99,"v":0.51},
      {"m":"One reward + General MDP","r":60,"t":0,"v":0.14},{"m":"One reward + General MDP","r":60,"t":5,"v":0.14},{"m":"One reward + General MDP","r":60,"t":10,"v":0.15},{"m":"One reward + General MDP","r":60,"t":15,"v":0.17},{"m":"One reward + General MDP","r":60,"t":20,"v":0.2},{"m":"One reward + General MDP","r":60,"t":30,"v":0.3},{"m":"One reward + General MDP","r":60,"t":40,"v":0.37},{"m":"One reward + General MDP","r":60,"t":60,"v":0.41},{"m":"One reward + General MDP","r":60,"t":99,"v":0.43}
    ]
  },
  "encoding": {
    "x": {
      "field": "t", "type": "quantitative",
      "scale": {"domain": [-4.95, 103.95], "nice": false, "zero": false},
      "axis": {"values": [0, 20, 40, 60, 80, 100], "title": "Iteration 𝑡", "titlePadding": 3}
    },
    "y": {
      "field": "v", "type": "quantitative",
      "scale": {"domain": [0.05, 0.995], "nice": false, "zero": false},
      "axis": {"values": [0.2, 0.4, 0.6, 0.8], "format": ".1f", "title": "Normalized trace objective 𝑓(Φₜ)", "titlePadding": 3}
    },
    "color": {
      "field": "m", "type": "nominal",
      "scale": {
        "domain": ["Multiple rewards + General MDP", "One reward + Symmetric MDP", "One reward + General MDP"],
        "range": ["#e74c3c", "#3498db", "#008000"]
      },
      "legend": {
        "title": null,
        "encode": {"symbols": {"update": {"fill": {"scale": "color", "field": "value"}, "opacity": {"value": 1}}}}
      }
    }
  },
  "layer": [
    {
      "data": {"name": "runs"},
      "mark": {"type": "line", "strokeWidth": 2, "opacity": 0.12, "interpolate": "monotone"},
      "encoding": {"detail": {"field": "r", "type": "nominal"}}
    },
    {
      "data": {"name": "mean"},
      "mark": {"type": "line", "strokeWidth": 3}
    },
    {
      "data": {"name": "mean"},
      "transform": [{"filter": "datum.t % 5 == 0"}],
      "mark": {"type": "circle", "size": 30, "opacity": 1}
    }
  ]
}
